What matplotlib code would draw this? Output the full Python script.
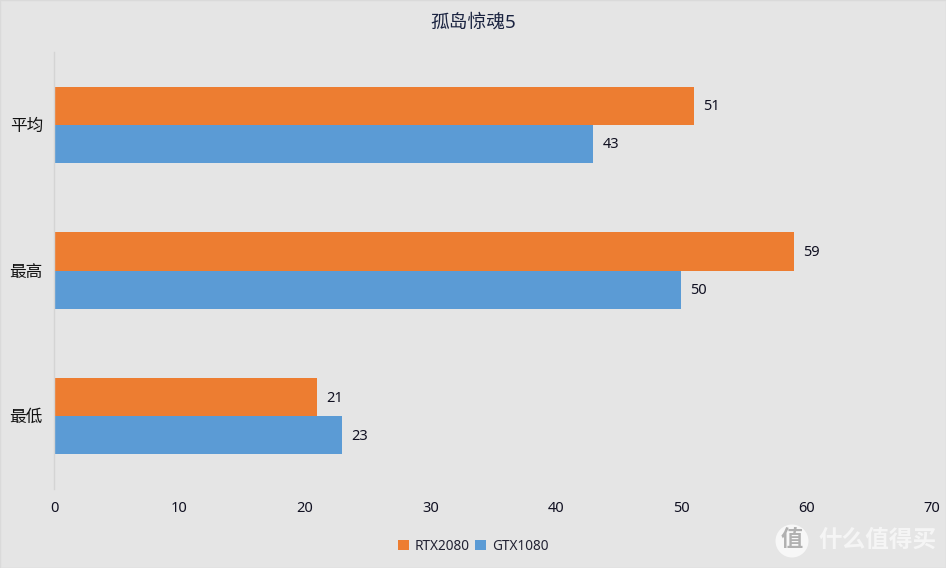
import matplotlib
matplotlib.use("Agg")
import matplotlib.pyplot as plt
from matplotlib.patches import Circle, Rectangle

categories = ["最低", "最高", "平均"]
rtx2080 = [21, 59, 51]
gtx1080 = [23, 50, 43]
series_names = ["RTX2080", "GTX1080"]
x_ticks = [0, 10, 20, 30, 40, 50, 60, 70]
title = "孤岛惊魂5"

BG = "#e5e5e5"
ORANGE = "#ed7d31"
BLUE = "#5b9bd5"
FONT = ["Noto Sans", "Noto Sans CJK SC", "DejaVu Sans"]
plt.rcParams["font.family"] = FONT

W, H = 946, 568
fig = plt.figure(figsize=(W / 100, H / 100), dpi=100, facecolor=BG)
ax = fig.add_axes([54 / W, 1 - 489 / H, (932 - 54) / W, (489 - 52) / H], facecolor=BG)

h = 0.2625
ypos = list(range(len(categories)))
ax.barh([y + h / 2 for y in ypos], rtx2080, height=h, color=ORANGE, label=series_names[0])
ax.barh([y - h / 2 for y in ypos], gtx1080, height=h, color=BLUE, label=series_names[1])

for y, a, b in zip(ypos, rtx2080, gtx1080):
    ax.annotate(str(a), (a, y + h / 2), xytext=(9, -1), textcoords="offset pixels",
                va="center", ha="left", fontsize=10.5, color="#111122")
    ax.annotate(str(b), (b, y - h / 2), xytext=(9, -1), textcoords="offset pixels",
                va="center", ha="left", fontsize=10.5, color="#111122")

ax.set_xlim(0, 70)
ax.set_ylim(-0.5, 2.5)
ax.set_xticks(x_ticks)
ax.set_yticks(ypos)
ax.set_yticklabels(categories, fontsize=12, color="#111111")
ax.tick_params(axis="both", length=0)
ax.tick_params(axis="x", labelsize=10.5, labelcolor="#111122", pad=9)
ax.tick_params(axis="y", pad=8)
for s in ["top", "right", "bottom"]:
    ax.spines[s].set_visible(False)
ax.spines["left"].set_color("#d4d4d4")
ax.spines["left"].set_linewidth(1)

fig.text(473 / W, 1 - 23 / H, title, ha="center", va="center", fontsize=13.5, color="#1a2340")

fig.legend(loc="center", bbox_to_anchor=(473 / W, 1 - 546 / H), ncol=2, frameon=False,
           fontsize=9.8, labelcolor="#222233", handlelength=0.8, handleheight=0.8,
           handletextpad=0.4, columnspacing=0.45, borderpad=0)

# border and watermark
fig.add_artist(Rectangle((0, 0), 1, 1, transform=fig.transFigure, fill=False,
                         edgecolor="#dadada", linewidth=1))
fig.add_artist(Circle((792, H - 541), 16.5, transform=None, facecolor="#f7f7f7",
                      edgecolor="none", zorder=5))
fig.text(792 / W, 1 - 541 / H, "值", ha="center", va="center", fontsize=16,
         color="#b0b0b0", fontweight="bold", zorder=6)
fig.text(877 / W, 1 - 541 / H, "什么值得买", ha="center", va="center", fontsize=17,
         color="#f5f5f5", fontweight="bold", zorder=6)

fig.savefig("out.png", dpi=100, facecolor=BG)
